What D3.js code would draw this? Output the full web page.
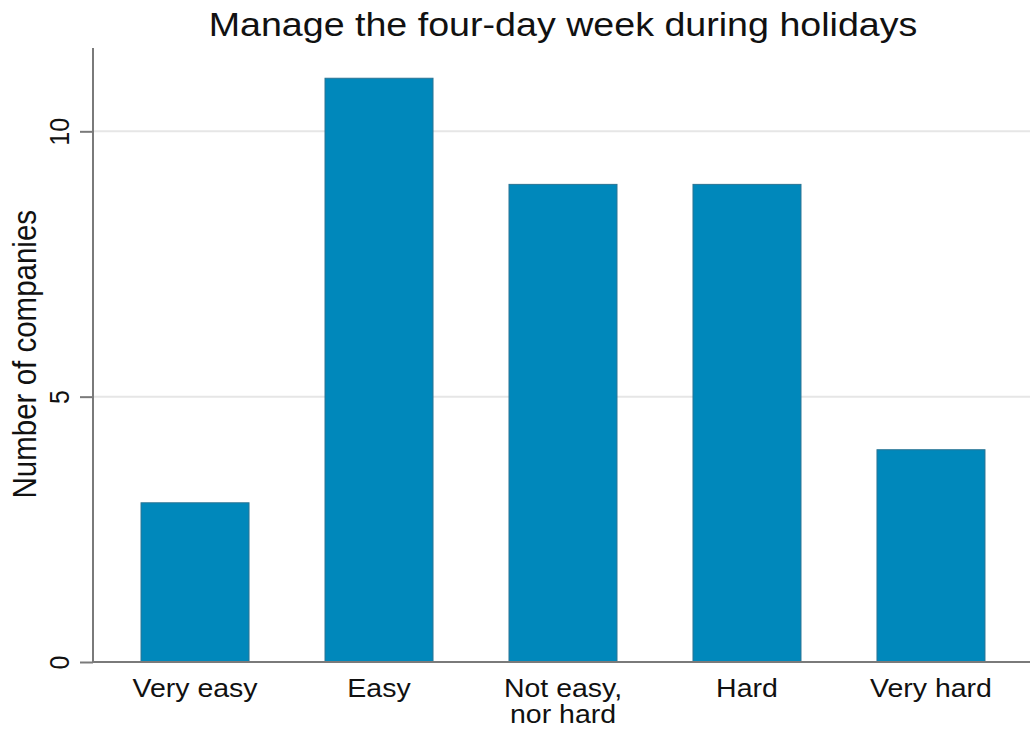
<!DOCTYPE html>
<html>
<head>
<meta charset="utf-8">
<script src="https://cdn.jsdelivr.net/npm/d3@7"></script>
<style>
  body { margin: 0; background: #fff; }
  text { font-family: "Liberation Sans", Arial, sans-serif; fill: #111; }
</style>
</head>
<body>
<div id="vis"></div>
<script>
const categories = [['Very easy'], ['Easy'], ['Not easy,', 'nor hard'], ['Hard'], ['Very hard']];
const counts = [3, 11, 9, 9, 4];
const yTicks = [0, 5, 10];
const title = 'Manage the four-day week during holidays';
const yTitle = 'Number of companies';

const width = 1030;
const height = 732;
const sx = 1.14; // glyphs in the picture are a bit wider than tall

const svg = d3.select('#vis')
              .append('svg')
                .attr('width', width)
                .attr('height', height);

const x = d3.scaleBand()
            .domain(d3.range(counts.length))
            .range([93, 1033])
            .paddingInner(0.413)
            .paddingOuter(0.261);

const y = d3.scaleLinear()
            .domain([0, 11.57])
            .range([662, 48]);

// grid lines
svg.selectAll('.grid')
  .data(yTicks.filter((d) => d > 0))
  .enter().append('line')
    .attr('x1', 93).attr('x2', width)
    .attr('y1', (d) => y(d)).attr('y2', (d) => y(d))
    .attr('stroke', '#e6e6e6')
    .attr('stroke-width', 2);

// bars
svg.selectAll('.bar')
  .data(counts)
  .enter().append('rect')
    .attr('class', 'bar')
    .attr('x', (d, i) => x(i))
    .attr('y', (d) => y(d))
    .attr('width', x.bandwidth())
    .attr('height', (d) => y(0) - y(d))
    .attr('fill', '#0088bb')
    .attr('stroke', '#2a7494')
    .attr('stroke-width', 1);

// y axis
const yAxis = d3.axisLeft(y).tickValues(yTicks).tickSize(13).tickFormat(d3.format('d'));
const gy = svg.append('g').attr('transform', 'translate(93,0)').call(yAxis);
gy.select('.domain').attr('stroke', '#7a7a7a').attr('stroke-width', 2)
  .attr('d', 'M0,' + y(0) + 'V' + y(11.57));
gy.selectAll('.tick line').attr('stroke', '#7a7a7a').attr('stroke-width', 2);
gy.selectAll('.tick text').remove();
gy.selectAll('.tick').append('text')
  .attr('transform', 'translate(-24,0) scale(' + sx + ',1) rotate(-90)')
  .attr('text-anchor', 'middle')
  .style('font-size', '25px')
  .style('font-family', '"Liberation Sans", Arial, sans-serif')
  .attr('fill', '#111')
  .text((d) => d);

// x axis baseline
svg.append('line')
  .attr('x1', 93).attr('x2', width)
  .attr('y1', y(0)).attr('y2', y(0))
  .attr('stroke', '#7a7a7a')
  .attr('stroke-width', 2);

// x labels
const xl = svg.selectAll('.xlab')
  .data(categories)
  .enter().append('text')
    .attr('class', 'xlab')
    .attr('text-anchor', 'middle')
    .attr('transform', (d, i) => 'translate(' + (x(i) + x.bandwidth() / 2) + ',697) scale(' + sx + ',1)')
    .style('font-size', '25px');
xl.selectAll('tspan')
  .data((d) => d)
  .enter().append('tspan')
    .attr('x', 0)
    .attr('dy', (d, i) => i === 0 ? 0 : 26)
    .text((d) => d);

// y title
svg.append('text')
  .attr('transform', 'translate(36,' + y(5.8) + ') scale(' + sx + ',1) rotate(-90)')
  .attr('text-anchor', 'middle')
  .style('font-size', '29.5px')
  .text(yTitle);

// title
svg.append('text')
  .attr('transform', 'translate(563,36) scale(' + sx + ',1)')
  .attr('text-anchor', 'middle')
  .style('font-size', '33px')
  .text(title);
</script>
</body>
</html>
